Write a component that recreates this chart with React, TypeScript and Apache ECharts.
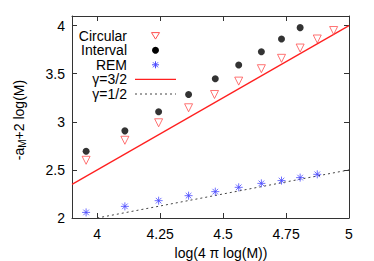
import React, { useEffect, useRef } from "react";
import * as echarts from "echarts";

const xTicks = [4, 4.25, 4.5, 4.75, 5];
const yTicks = [2, 2.5, 3, 3.5, 4];

const circularX = [3.956, 4.11, 4.244, 4.363, 4.466, 4.562, 4.652, 4.732, 4.806, 4.874, 4.939];
const circularY = [2.6, 2.808, 2.99, 3.146, 3.284, 3.423, 3.552, 3.66, 3.767, 3.861, 3.949];

const intervalX = [3.956, 4.11, 4.244, 4.363, 4.469, 4.562, 4.652, 4.732, 4.806];
const intervalY = [2.694, 2.906, 3.104, 3.284, 3.448, 3.59, 3.729, 3.861, 3.979];

const remX = [3.956, 4.11, 4.244, 4.363, 4.469, 4.562, 4.652, 4.732, 4.806, 4.874];
const remY = [2.058, 2.121, 2.18, 2.232, 2.274, 2.319, 2.36, 2.389, 2.42, 2.454];

const gamma32X = [3.9, 5];
const gamma32Y = [2.35, 4.0];
const gamma12X = [4.0, 5];
const gamma12Y = [2.0, 2.5];

const legendNames = ["Circular", "Interval", "REM", "γ=3/2", "γ=1/2"];

const zip = (xs: number[], ys: number[]) => xs.map((x, i) => [x, ys[i]]);

const FONT = "Liberation Sans, Arial, sans-serif";
const FRAME = "#333";
const RED_MARK = "#ff5050";
const BLUE_MARK = "#4a4aff";
const ASTERISK = "path://M5 0L5 10M0 5L10 5M1.5 1.5L8.5 8.5M8.5 1.5L1.5 8.5";

function legendGraphics() {
  const textRight = 127;
  const iconX = 155.5;
  const lineL = 135;
  const lineR = 176;
  const rows = [35.6, 50.2, 64.8, 79.4, 94.0];
  const els: any[] = [];
  legendNames.forEach((name, i) => {
    els.push({
      type: "text",
      x: textRight,
      y: rows[i],
      style: {
        text: name,
        fontFamily: FONT,
        fontSize: 14,
        lineHeight: 13,
        fill: "#000",
        align: "right",
        verticalAlign: "middle",
      },
    });
  });
  const r0 = rows[0];
  els.push({
    type: "polygon",
    shape: { points: [[iconX - 4, r0 - 3], [iconX + 4, r0 - 3], [iconX, r0 + 3.5]] },
    style: { fill: "none", stroke: RED_MARK, lineWidth: 1 },
  });
  els.push({
    type: "circle",
    shape: { cx: iconX, cy: rows[1], r: 3.5 },
    style: { fill: "#000" },
  });
  const r2 = rows[2];
  const s = 3.5;
  const d = 2.5;
  [
    [0, -s, 0, s],
    [-s, 0, s, 0],
    [-d, -d, d, d],
    [d, -d, -d, d],
  ].forEach(([x1, y1, x2, y2]) =>
    els.push({
      type: "line",
      shape: { x1: iconX + x1, y1: r2 + y1, x2: iconX + x2, y2: r2 + y2 },
      style: { stroke: BLUE_MARK, lineWidth: 1 },
    })
  );
  els.push({
    type: "line",
    shape: { x1: lineL, y1: rows[3], x2: lineR, y2: rows[3] },
    style: { stroke: "#ff2020", lineWidth: 1.3 },
  });
  els.push({
    type: "line",
    shape: { x1: lineL, y1: rows[4], x2: lineR, y2: rows[4] },
    style: { stroke: "#444", lineWidth: 1, lineDash: [2, 3] },
  });
  return els;
}

export default function App() {
  const ref = useRef<HTMLDivElement>(null);
  useEffect(() => {
    if (!ref.current) return;
    const chart = echarts.init(ref.current, null, { renderer: "svg" });
    const axisCommon = {
      axisLine: { show: true, lineStyle: { color: FRAME, width: 1 } },
      splitLine: { show: false },
    };
    chart.setOption({
      animation: false,
      backgroundColor: "#fff",
      grid: { left: 72, right: 25, top: 16, bottom: 43 },
      xAxis: [
        {
          type: "value",
          min: 3.9,
          max: 5,
          position: "bottom",
          ...axisCommon,
          axisTick: { show: true, inside: true, length: 5, customValues: xTicks, lineStyle: { color: FRAME } },
          axisLabel: {
            show: true,
            customValues: xTicks,
            margin: 9,
            fontFamily: FONT,
            fontSize: 14,
            color: "#000",
          },
        },
        {
          type: "value",
          min: 3.9,
          max: 5,
          position: "top",
          ...axisCommon,
          axisTick: { show: true, inside: true, length: 5, customValues: xTicks, lineStyle: { color: FRAME } },
          axisLabel: { show: false },
        },
      ],
      yAxis: [
        {
          type: "value",
          min: 2,
          max: 4.1,
          position: "left",
          ...axisCommon,
          axisTick: { show: true, inside: true, length: 5, customValues: yTicks, lineStyle: { color: FRAME } },
          axisLabel: {
            show: true,
            customValues: yTicks,
            margin: 7,
            fontFamily: FONT,
            fontSize: 14,
            color: "#000",
          },
        },
        {
          type: "value",
          min: 2,
          max: 4.1,
          position: "right",
          ...axisCommon,
          axisTick: { show: true, inside: true, length: 5, customValues: yTicks, lineStyle: { color: FRAME } },
          axisLabel: { show: false },
        },
      ],
      graphic: [
        {
          type: "text",
          x: 221,
          y: 253,
          style: {
            text: "log(4 π log(M))",
            fontFamily: FONT,
            fontSize: 14,
            fill: "#000",
            align: "center",
            verticalAlign: "middle",
          },
        },
        {
          type: "text",
          x: 19,
          y: 120,
          rotation: Math.PI / 2,
          style: {
            text: "{a|-a}{s|M}{a|+2 log(M)}",
            align: "center",
            verticalAlign: "middle",
            rich: {
              a: { fontFamily: FONT, fontSize: 14, fill: "#000" },
              s: { fontFamily: FONT, fontSize: 10, fill: "#000", padding: [6, 0, 0, 0] },
            },
          },
        },
        ...legendGraphics(),
      ],
      series: [
        {
          name: "Circular",
          type: "scatter",
          data: zip(circularX, circularY),
          symbol: "triangle",
          symbolRotate: 180,
          symbolSize: 8,
          itemStyle: { color: "rgba(255,255,255,0)", borderColor: RED_MARK, borderWidth: 1 },
          z: 3,
        },
        {
          name: "Interval",
          type: "scatter",
          data: zip(intervalX, intervalY),
          symbol: "circle",
          symbolSize: 7,
          itemStyle: { color: "#000" },
          z: 3,
        },
        {
          name: "REM",
          type: "scatter",
          data: zip(remX, remY),
          symbol: ASTERISK,
          symbolSize: 8,
          itemStyle: { color: "rgba(255,255,255,0)", borderColor: BLUE_MARK, borderWidth: 1 },
          z: 3,
        },
        {
          name: "γ=3/2",
          type: "line",
          data: zip(gamma32X, gamma32Y),
          symbol: "none",
          lineStyle: { color: "#ff2020", width: 1.3 },
          z: 2,
        },
        {
          name: "γ=1/2",
          type: "line",
          data: zip(gamma12X, gamma12Y),
          symbol: "none",
          lineStyle: { color: "#444", width: 1, type: [2, 3] },
          z: 2,
        },
      ],
    });
    return () => chart.dispose();
  }, []);
  return <div ref={ref} style={{ width: 374, height: 261, position: "absolute", left: 0, top: 0 }} />;
}
